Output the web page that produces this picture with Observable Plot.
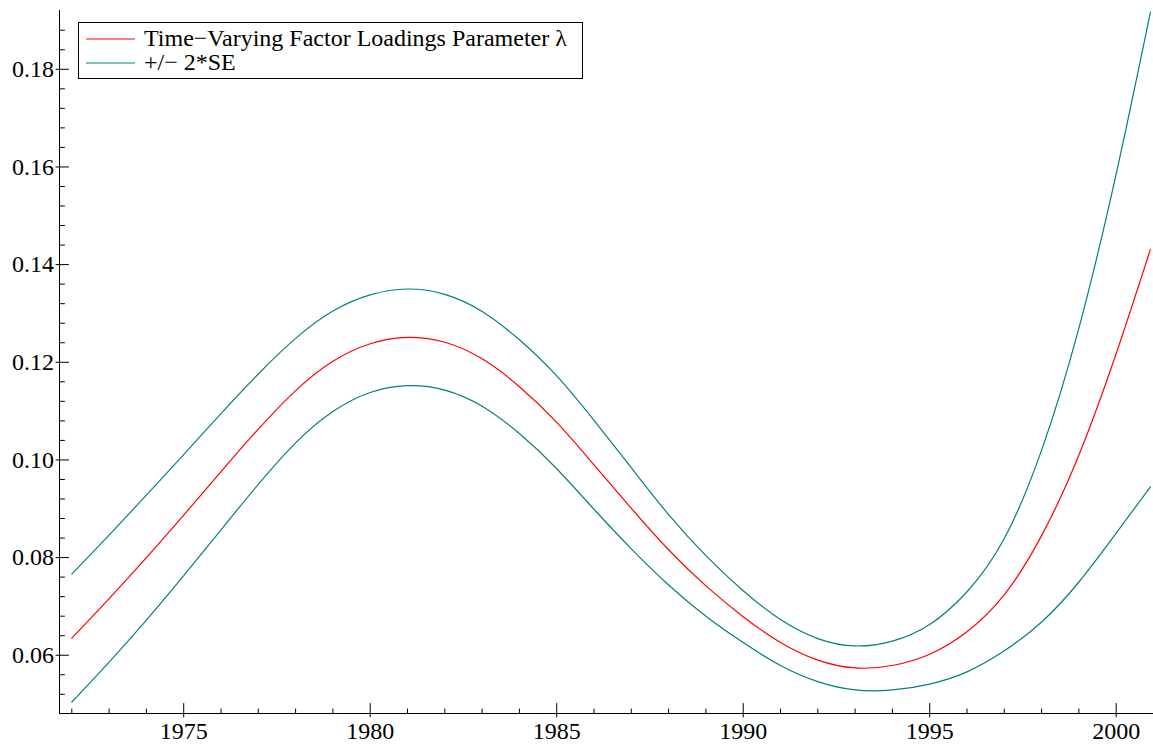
<!DOCTYPE html>
<html>
<head>
<meta charset="utf-8">
<script src="https://cdn.jsdelivr.net/npm/d3@7"></script>
<script src="https://cdn.jsdelivr.net/npm/@observablehq/plot@0.6"></script>
<style>
  html, body { margin: 0; padding: 0; background: #fff; }
  #wrap { position: relative; width: 1153px; height: 745px; }
  #legend {
    position: absolute; left: 78px; top: 22px; width: 505px; height: 57px;
    box-sizing: border-box; border: 1px solid #000; background: #fff;
    font-family: "Liberation Serif", "Times New Roman", "DejaVu Serif", serif; font-size: 24px; color: #000;
    padding-top: 4px;
  }
  .row { display: flex; align-items: center; height: 23.7px; line-height: 23.7px; white-space: nowrap; }
  .row svg { margin-left: 7px; margin-right: 9px; flex: none; }
</style>
</head>
<body>
<div id="wrap">
  <div id="chart"></div>
  <div id="legend"></div>
</div>
<script>
// ---- data ----
const dates = [1972,1973,1974,1975,1976,1977,1978,1979,1980,1981,1982,1983,1984,1985,1986,1987,1988,1989,1990,1991,1992,1993,1994,1995,1996,1997,1998,1999,2000,2000.917];
const lambda = [0.0635,0.0716,0.0800,0.0887,0.0976,0.1063,0.1142,0.1202,0.1238,0.1251,0.1241,0.1207,0.1150,0.1077,0.0990,0.0901,0.0816,0.0742,0.0679,0.0626,0.0590,0.0574,0.0579,0.0602,0.0648,0.0724,0.0845,0.1010,0.1218,0.1431];
const upperBand = [0.0766,0.0846,0.0928,0.1011,0.1095,0.1176,0.1249,0.1305,0.1338,0.1350,0.1339,0.1304,0.1246,0.1172,0.1081,0.0984,0.0888,0.0804,0.0732,0.0673,0.0634,0.0619,0.0629,0.0663,0.0730,0.0839,0.1020,0.1270,0.1586,0.1917];
const lowerBand = [0.0504,0.0586,0.0672,0.0763,0.0857,0.0950,0.1035,0.1099,0.1138,0.1152,0.1143,0.1110,0.1054,0.0982,0.0899,0.0818,0.0744,0.0680,0.0626,0.0579,0.0546,0.0529,0.0529,0.0541,0.0566,0.0609,0.0668,0.0750,0.0850,0.0945];

const seriesLabels = ["Time\u2212Varying Factor Loadings Parameter \u03bb", "+/\u2212 2*SE"];
const seriesColors = ["#ff0000", "#008080"];

const xDomain = [1971.67, 2001.0];
const yDomain = [0.04807, 0.19204];
const xMajorTicks = [1975, 1980, 1985, 1990, 1995, 2000];
const xMinorTicks = [1972,1973,1974,1976,1977,1978,1979,1981,1982,1983,1984,1986,1987,1988,1989,1991,1992,1993,1994,1996,1997,1998,1999];
const yMajorTicks = [0.06, 0.08, 0.10, 0.12, 0.14, 0.16, 0.18];
const yMinorTicks = [0.052,0.056,0.064,0.068,0.072,0.076,0.084,0.088,0.092,0.096,0.104,0.108,0.112,0.116,0.124,0.128,0.132,0.136,0.144,0.148,0.152,0.156,0.164,0.168,0.172,0.176,0.184,0.188];

// ---- tables ----
const mainRows = dates.map((d, i) => ({date: d, value: lambda[i]}));
const bandRows = [
  ...dates.map((d, i) => ({date: d, value: upperBand[i], band: "upper"})),
  ...dates.map((d, i) => ({date: d, value: lowerBand[i], band: "lower"}))
];

const FONT = '"Liberation Serif", "Times New Roman", "DejaVu Serif", serif';
const inward = {draw(ctx, l) { ctx.moveTo(0, 0); ctx.lineTo(0, -l); }};
const through = {draw(ctx, l) { ctx.moveTo(0, 3.5); ctx.lineTo(0, -l); }};

const chart = Plot.plot({
  width: 1153,
  height: 745,
  marginLeft: 59,
  marginRight: 0,
  marginTop: 10,
  marginBottom: 32,
  style: {fontFamily: FONT, fontSize: "24px", color: "#000", background: "#fff"},
  x: {domain: xDomain},
  y: {domain: yDomain},
  marks: [
    Plot.line(bandRows, {x: "date", y: "value", z: "band", stroke: seriesColors[1], strokeWidth: 1.2, curve: "natural"}),
    Plot.line(mainRows, {x: "date", y: "value", stroke: seriesColors[0], strokeWidth: 1.2, curve: "natural"}),
    Plot.ruleX([xDomain[0]], {stroke: "#000", strokeWidth: 1}),
    Plot.ruleY([yDomain[0]], {stroke: "#000", strokeWidth: 1}),
    // y ticks (pointing inward)
    Plot.vector(yMinorTicks, {x: () => xDomain[0], y: d => d, rotate: 90, length: 5, anchor: "start", shape: inward, stroke: "#000", strokeWidth: 1}),
    Plot.vector(yMajorTicks, {x: () => xDomain[0], y: d => d, rotate: 90, length: 9, anchor: "start", shape: through, stroke: "#000", strokeWidth: 1}),
    // x ticks (pointing inward)
    Plot.vector(xMinorTicks, {x: d => d, y: () => yDomain[0], rotate: 0, length: 4.5, anchor: "start", shape: inward, stroke: "#000", strokeWidth: 1}),
    Plot.vector(xMajorTicks, {x: d => d, y: () => yDomain[0], rotate: 0, length: 10, anchor: "start", shape: through, stroke: "#000", strokeWidth: 1}),
    Plot.axisY(yMajorTicks, {tickSize: 0, tickPadding: 5.5, tickFormat: d3.format(".2f"), label: null, fontSize: 24, fontFamily: FONT, fill: "#000"}),
    Plot.axisX(xMajorTicks, {tickSize: 0, tickPadding: 8.5, tickFormat: d3.format("d"), label: null, fontSize: 24, fontFamily: FONT, fill: "#000"})
  ]
});
document.getElementById("chart").appendChild(chart);

// ---- legend (HTML, overlaid in the top-left corner) ----
const legend = document.getElementById("legend");
seriesLabels.forEach((label, i) => {
  const row = document.createElement("div");
  row.className = "row";
  const ns = "http://www.w3.org/2000/svg";
  const s = document.createElementNS(ns, "svg");
  s.setAttribute("width", "49");
  s.setAttribute("height", "4");
  const ln = document.createElementNS(ns, "line");
  ln.setAttribute("x1", "0"); ln.setAttribute("x2", "49");
  ln.setAttribute("y1", "2"); ln.setAttribute("y2", "2");
  ln.setAttribute("stroke", seriesColors[i]);
  ln.setAttribute("stroke-width", "1.2");
  s.appendChild(ln);
  const t = document.createElement("span");
  t.textContent = label;
  row.appendChild(s);
  row.appendChild(t);
  legend.appendChild(row);
});
</script>
</body>
</html>
